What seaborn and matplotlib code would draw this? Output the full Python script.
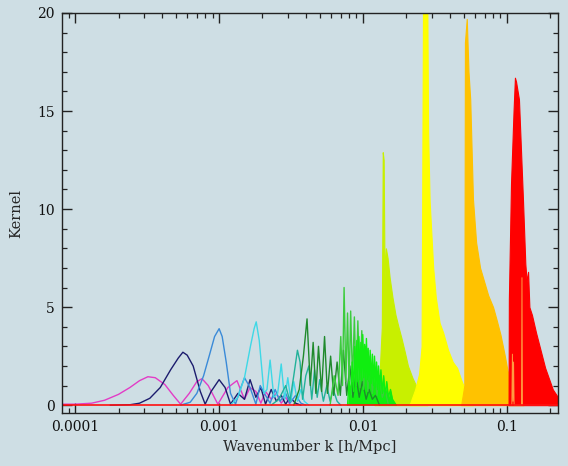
import matplotlib
matplotlib.use("Agg")
import matplotlib.pyplot as plt
import numpy as np
import pandas as pd
import seaborn as sns
from matplotlib.ticker import LogLocator, MultipleLocator, NullFormatter

# ---------------- data ----------------
x_ticks = [1e-4, 1e-3, 1e-2, 1e-1]
x_tick_labels = ["0.0001", "0.001", "0.01", "0.1"]
y_ticks = [0, 5, 10, 15, 20]
y_tick_labels = ["0", "5", "10", "15", "20"]

# oscillating low-k kernels (drawn as lines)
magenta_k = [8.1e-5, 1.0e-4, 1.3e-4, 1.6e-4, 2.0e-4, 2.4e-4, 2.8e-4, 3.2e-4, 3.6e-4, 4.2e-4,
             4.8e-4, 5.4e-4, 6.2e-4, 7.0e-4, 7.6e-4, 8.4e-4, 9.8e-4, 1.15e-3, 1.33e-3, 1.5e-3,
             1.64e-3, 1.8e-3, 1.95e-3, 2.1e-3, 2.3e-3, 2.5e-3, 2.7e-3, 2.9e-3, 3.1e-3]
magenta_y = [0.05, 0.05, 0.1, 0.25, 0.55, 0.9, 1.25, 1.45, 1.4, 1.05,
             0.5, 0.05, 0.6, 1.2, 1.35, 1.0, 0.05, 0.9, 1.25, 0.3,
             0.9, 0.7, 0.1, 0.7, 0.3, 0.6, 0.1, 0.4, 0.05]

navy_k = [1.75e-4, 2.4e-4, 2.8e-4, 3.3e-4, 3.9e-4, 4.6e-4, 5.2e-4, 5.6e-4, 6.0e-4, 6.6e-4,
          7.4e-4, 8.0e-4, 8.8e-4, 1.0e-3, 1.1e-3, 1.2e-3, 1.35e-3, 1.5e-3, 1.64e-3, 1.8e-3,
          1.95e-3, 2.1e-3, 2.3e-3, 2.5e-3, 2.7e-3, 2.9e-3, 3.1e-3, 3.4e-3, 3.7e-3]
navy_y = [0.0, 0.02, 0.1, 0.35, 0.9, 1.8, 2.4, 2.7, 2.55, 2.0,
          0.7, 0.05, 0.7, 1.3, 0.9, 0.05, 0.6, 0.3, 1.3, 0.4,
          0.9, 0.05, 0.8, 0.2, 0.5, 0.05, 0.4, 0.1, 0.0]

blue_k = [5.4e-4, 6.3e-4, 7.0e-4, 7.8e-4, 8.6e-4, 9.3e-4, 1.0e-3, 1.05e-3, 1.12e-3, 1.2e-3,
          1.3e-3, 1.4e-3, 1.5e-3, 1.64e-3, 1.8e-3, 1.93e-3, 2.1e-3, 2.26e-3, 2.45e-3, 2.65e-3,
          2.9e-3, 3.1e-3, 3.4e-3, 3.7e-3, 4.0e-3]
blue_y = [0.0, 0.15, 0.6, 1.5, 2.6, 3.5, 3.9, 3.5, 2.2, 0.6,
          0.05, 0.8, 1.4, 0.9, 0.05, 1.0, 0.5, 0.1, 0.8, 0.2,
          0.6, 0.1, 0.5, 0.1, 0.0]

cyan_k = [1.2e-3, 1.35e-3, 1.5e-3, 1.65e-3, 1.75e-3, 1.81e-3, 1.9e-3, 2.05e-3, 2.15e-3, 2.26e-3,
          2.4e-3, 2.55e-3, 2.7e-3, 2.85e-3, 3.0e-3, 3.15e-3, 3.3e-3, 3.5e-3, 3.7e-3, 3.9e-3, 4.2e-3]
cyan_y = [0.0, 0.4, 1.4, 3.0, 3.9, 4.25, 3.3, 0.6, 0.8, 2.3,
          0.4, 0.6, 2.1, 0.3, 1.4, 0.2, 1.2, 0.2, 0.8, 0.2, 0.0]

teal_k = [2.3e-3, 2.6e-3, 2.9e-3, 3.1e-3, 3.3e-3, 3.5e-3, 3.65e-3, 3.8e-3, 4.0e-3, 4.2e-3,
          4.4e-3, 4.6e-3, 4.8e-3, 5.0e-3, 5.3e-3, 5.6e-3, 5.9e-3, 6.2e-3, 6.6e-3, 7.0e-3]
teal_y = [0.0, 0.3, 1.0, 0.2, 1.5, 2.8, 2.2, 0.3, 1.5, 2.0,
          0.3, 1.8, 0.4, 1.3, 0.2, 1.0, 0.2, 0.8, 0.2, 0.0]

dkgreen_k = [3.3e-3, 3.6e-3, 3.85e-3, 4.08e-3, 4.3e-3, 4.5e-3, 4.7e-3, 4.9e-3, 5.15e-3, 5.4e-3,
             5.65e-3, 5.95e-3, 6.25e-3, 6.6e-3, 6.95e-3, 7.3e-3, 7.7e-3, 8.1e-3, 8.5e-3, 8.9e-3,
             9.4e-3, 9.9e-3, 1.05e-2, 1.1e-2, 1.16e-2, 1.22e-2, 1.3e-2]
dkgreen_y = [0.0, 0.8, 2.5, 4.4, 1.0, 3.2, 0.6, 3.0, 0.7, 3.5,
             0.6, 2.5, 0.5, 2.2, 0.5, 2.8, 0.5, 2.0, 0.4, 1.6,
             0.4, 1.2, 0.3, 0.8, 0.3, 0.5, 0.0]

green_k = [5.9e-3, 6.3e-3, 6.7e-3, 7.0e-3, 7.2e-3, 7.38e-3, 7.6e-3, 7.8e-3, 8.0e-3, 8.2e-3,
           8.45e-3, 8.7e-3, 8.95e-3, 9.2e-3, 9.5e-3, 9.8e-3, 1.01e-2, 1.04e-2, 1.08e-2, 1.12e-2,
           1.16e-2, 1.2e-2, 1.25e-2, 1.3e-2, 1.36e-2, 1.42e-2, 1.5e-2]
green_y = [0.0, 1.5, 0.5, 3.5, 1.0, 6.0, 1.2, 4.7, 1.0, 4.8,
           1.2, 4.5, 1.0, 4.3, 0.9, 3.8, 0.8, 3.0, 0.7, 2.5,
           0.6, 2.0, 0.5, 1.5, 0.4, 0.8, 0.0]

# bright green kernel: dense oscillations, drawn filled
lime_k = [7.8e-3, 8.0e-3, 8.2e-3, 8.4e-3, 8.6e-3, 8.75e-3, 8.9e-3, 9.05e-3, 9.2e-3, 9.35e-3,
          9.5e-3, 9.65e-3, 9.8e-3, 9.95e-3, 1.01e-2, 1.025e-2, 1.04e-2, 1.055e-2, 1.07e-2, 1.085e-2,
          1.1e-2, 1.12e-2, 1.14e-2, 1.16e-2, 1.18e-2, 1.2e-2, 1.22e-2, 1.24e-2, 1.26e-2, 1.28e-2,
          1.3e-2, 1.33e-2, 1.36e-2, 1.39e-2, 1.42e-2, 1.46e-2, 1.5e-2, 1.55e-2, 1.6e-2, 1.7e-2]
lime_y = [0.0, 1.2, 0.5, 2.2, 0.7, 3.0, 1.0, 3.3, 1.2, 3.5,
          1.3, 3.2, 1.3, 3.6, 1.4, 3.1, 1.3, 3.4, 1.3, 2.9,
          1.2, 2.8, 1.1, 2.6, 1.0, 2.5, 0.9, 2.2, 0.8, 2.0,
          0.7, 1.8, 0.6, 1.5, 0.5, 1.2, 0.4, 0.8, 0.3, 0.0]

# dense high-k kernels (drawn as filled envelopes)
ygreen_k = [1.2e-2, 1.3e-2, 1.35e-2, 1.37e-2, 1.39e-2, 1.41e-2, 1.44e-2, 1.48e-2, 1.53e-2, 1.6e-2,
            1.68e-2, 1.76e-2, 1.85e-2, 1.95e-2, 2.05e-2, 2.2e-2, 2.4e-2, 2.6e-2, 2.8e-2]
ygreen_y = [0.0, 1.5, 4.0, 12.9, 12.5, 6.5, 8.0, 7.5, 6.5, 5.5,
            4.6, 4.0, 3.4, 2.7, 2.0, 1.4, 0.8, 0.3, 0.0]

yellow_k = [2.1e-2, 2.3e-2, 2.45e-2, 2.55e-2, 2.61e-2, 2.79e-2, 2.83e-2, 2.9e-2, 3.07e-2,
            3.2e-2, 3.4e-2, 3.6e-2, 3.9e-2, 4.2e-2, 4.5e-2, 4.8e-2, 5.1e-2, 5.4e-2, 5.8e-2]
yellow_y = [0.0, 0.8, 1.6, 3.0, 21.0, 21.0, 13.9, 10.4, 7.0,
            5.5, 4.2, 3.7, 2.8, 2.2, 1.9, 1.3, 0.8, 0.5, 0.0]

orange_k = [4.8e-2, 5.05e-2, 5.1e-2, 5.25e-2, 5.4e-2, 5.55e-2, 5.8e-2, 6.1e-2, 6.5e-2, 7.0e-2,
            7.4e-2, 8.0e-2, 8.5e-2, 9.0e-2, 9.6e-2, 0.1, 0.105, 0.11, 0.12, 0.13]
orange_y = [0.0, 1.0, 18.5, 19.7, 17.0, 15.6, 10.5, 8.3, 7.0, 6.2,
            5.6, 5.0, 4.3, 3.6, 2.6, 1.9, 1.2, 0.6, 0.2, 0.0]

red_k = [0.1025, 0.103, 0.1066, 0.111, 0.1135, 0.1155, 0.121, 0.129, 0.134, 0.137,
         0.14, 0.143, 0.149, 0.159, 0.184, 0.208, 0.226, 0.25]
red_y = [0.0, 5.4, 11.3, 15.0, 16.7, 16.5, 15.6, 10.5, 7.2, 6.3,
         6.8, 5.0, 4.6, 3.7, 1.9, 0.8, 0.4, 0.15]

# small orange spikes showing over the red kernel
ospike_k = [0.108, 0.109, 0.110, 0.111, 0.112, 0.126, 0.127, 0.128]
ospike_y = [0.0, 2.6, 0.2, 2.2, 0.0, 0.0, 6.5, 0.0]

BG = "#cedee4"
line_colors = {
    "magenta": "#e23cc6", "navy": "#1c1c6e", "blue": "#3a8ad8", "cyan": "#3ed8e6",
    "teal": "#22b29a", "dkgreen": "#1f8a2c", "green": "#3ccc3c", "lime": "#10ee10",
}
fill_colors = {"ygreen": "#c8f000", "yellow": "#ffff00", "orange": "#ffc200", "red": "#ff0000"}
fill_z = {"ygreen": 1.4, "yellow": 3, "orange": 3, "red": 3}

lines = {
    "magenta": (magenta_k, magenta_y), "navy": (navy_k, navy_y), "blue": (blue_k, blue_y),
    "cyan": (cyan_k, cyan_y), "teal": (teal_k, teal_y), "dkgreen": (dkgreen_k, dkgreen_y),
    "green": (green_k, green_y), "lime": (lime_k, lime_y),
}
fills = {
    "ygreen": (ygreen_k, ygreen_y), "yellow": (yellow_k, yellow_y),
    "orange": (orange_k, orange_y), "red": (red_k, red_y),
}

df = pd.concat(
    [pd.DataFrame({"k": k, "kernel": y, "band": name}) for name, (k, y) in lines.items()],
    ignore_index=True,
)

# ---------------- figure ----------------
sns.set_style("ticks")
plt.rcParams["font.family"] = ["DejaVu Serif"]

fig = plt.figure(figsize=(5.68, 4.66), dpi=100, facecolor=BG)
ax = fig.add_axes([62 / 568, 1 - 413 / 466, (558 - 62) / 568, (413 - 13) / 466])
ax.set_facecolor(BG)
ax.set_xscale("log")

# filled dense bright-green kernel below the line kernels
ax.fill_between(lime_k, 0, lime_y, color=line_colors["lime"], linewidth=0, zorder=1.5)

sns.lineplot(data=df, x="k", y="kernel", hue="band", hue_order=list(lines.keys()),
             palette=line_colors, estimator=None, sort=False, legend=False,
             linewidth=1.0, ax=ax)

for name, (k, y) in fills.items():
    ax.fill_between(k, 0, y, color=fill_colors[name], linewidth=0.8, zorder=fill_z[name])

ax.plot(ospike_k, ospike_y, color="#ff9a40", lw=0.7, zorder=4)
ax.axhline(0, color="#ff1010", lw=1.2, zorder=5)

ax.set_xlim(8.1e-5, 0.226)
ax.set_ylim(-0.4, 20)

ax.set_xticks(x_ticks)
ax.set_xticklabels(x_tick_labels)
ax.xaxis.set_minor_locator(LogLocator(base=10, subs=range(2, 10)))
ax.xaxis.set_minor_formatter(NullFormatter())
ax.set_yticks(y_ticks)
ax.set_yticklabels(y_tick_labels)
ax.yaxis.set_minor_locator(MultipleLocator(1))

ax.tick_params(which="both", direction="in", top=True, right=True, colors="#222222",
               labelcolor="#111111", labelsize=10)
ax.tick_params(which="major", length=7, width=1.0, pad=5)
ax.tick_params(which="minor", length=3.8, width=0.9)
for s in ax.spines.values():
    s.set_color("#222222")
    s.set_linewidth(1.0)
    s.set_zorder(6)

ax.set_xlabel("Wavenumber k [h/Mpc]", fontsize=10.5, labelpad=4)
ax.set_ylabel("Kernel", fontsize=10.5, labelpad=10)

fig.savefig("out.png", dpi=100, facecolor=BG)
